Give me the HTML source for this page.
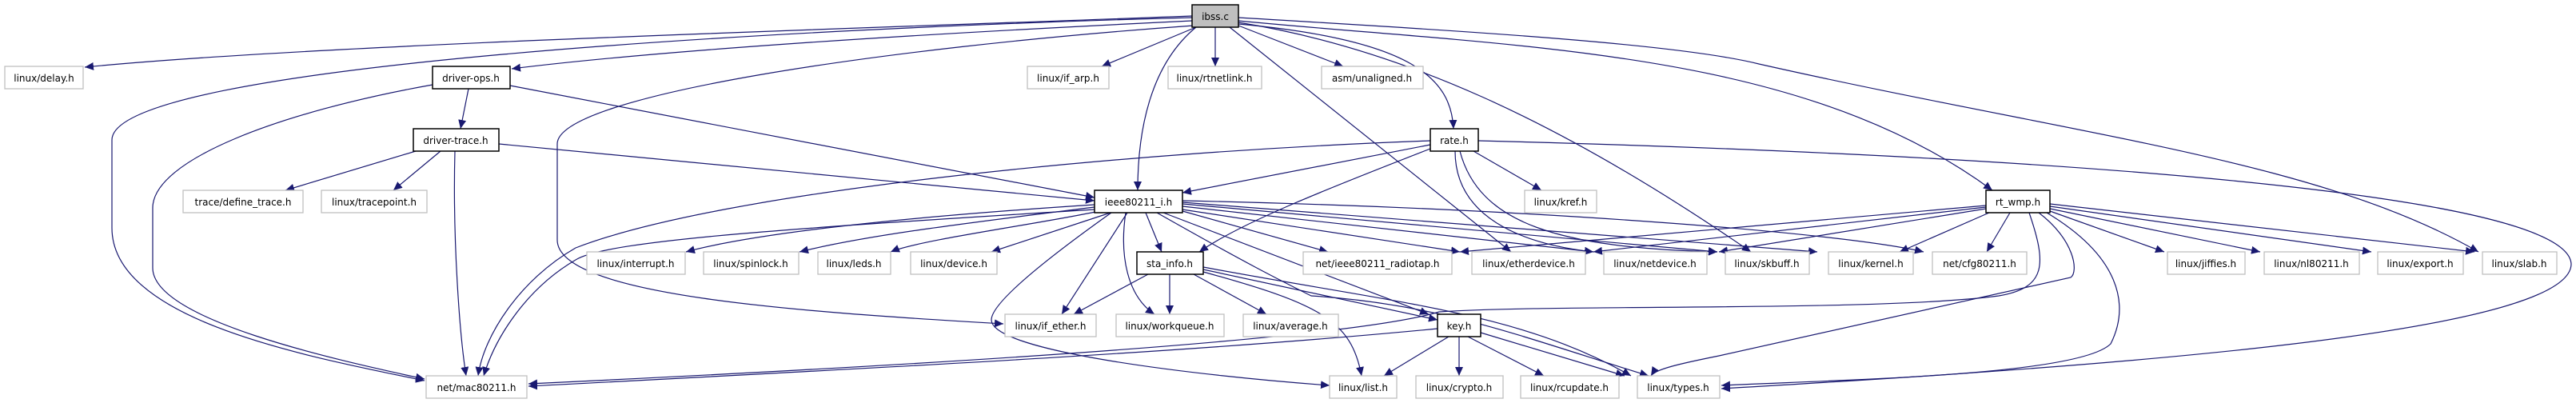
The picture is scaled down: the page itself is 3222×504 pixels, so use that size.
<!DOCTYPE html>
<html><head><meta charset="utf-8"><style>
html,body{margin:0;padding:0;background:#fff;}
svg{display:block;}
text{font-family:"DejaVu Sans","Liberation Sans",sans-serif;font-size:12px;fill:#000;}
.g{fill:#fff;stroke:#bfbfbf;stroke-width:1.3;}
.b{fill:#fff;stroke:#000;stroke-width:1.5;}
.e{fill:none;stroke:#191970;stroke-width:1.2;}
</style></head><body>
<svg width="3222" height="504" viewBox="0 0 3222 504" xmlns="http://www.w3.org/2000/svg">
<defs><marker id="a" markerUnits="userSpaceOnUse" markerWidth="12" markerHeight="10" refX="11" refY="5" orient="auto"><path d="M0,0 L11,5 L0,10 z" fill="#191970"/></marker></defs>
<g class="e" marker-end="url(#a)">
<path d="M1491,20 C1100,35 400,55 106,84"/>
<path d="M1491,22 C1000,35 140,80 140,175 L140,285 C140,400 380,445 531,476"/>
<path d="M1491,26 C1200,40 850,60 640,86"/>
<path d="M1493,32 C1100,60 697,120 697,180 L697,300 C697,370 1000,390 1255,405"/>
<path d="M1496,34 L1378,83"/>
<path d="M1520,34 L1520,83"/>
<path d="M1549,32 L1680,83"/>
<path d="M1496,34 C1440,80 1423,160 1423,238"/>
<path d="M1549,30 C1770,50 1815,100 1818,161"/>
<path d="M1538,34 L1890,315"/>
<path d="M1549,28 C1750,60 1950,150 2190,315"/>
<path d="M1549,26 C1900,60 2250,60 2492,238"/>
<path d="M1549,22 C1850,40 2100,55 2200,80 C2600,170 2900,200 3100,315"/>
<path d="M586,111 L576,161"/>
<path d="M541,106 C350,140 191,200 191,260 L191,335 C191,400 420,450 531,474"/>
<path d="M638,107 L1369,247"/>
<path d="M520,189 L357,238"/>
<path d="M551,189 L492,238"/>
<path d="M569,189 C566,300 575,420 583,470"/>
<path d="M624,180 L1369,251"/>
<path d="M1789,181 L1479,241"/>
<path d="M1789,176 C1400,190 900,240 720,310 C650,350 605,420 598,470"/>
<path d="M1789,186 C1650,240 1550,280 1500,315"/>
<path d="M1843,189 L1928,238"/>
<path d="M1820,189 C1820,270 1900,305 1993,315"/>
<path d="M1826,189 C1850,280 1950,310 2148,315"/>
<path d="M1849,176 C2400,190 3210,230 3216,330 C3216,420 2600,460 2153,486"/>
<path d="M1369,256 C1150,270 950,290 858,315"/>
<path d="M1369,259 C1200,280 1080,295 1000,315"/>
<path d="M1375,264 C1300,280 1150,300 1114,315"/>
<path d="M1389,266 L1240,315"/>
<path d="M1433,266 L1453,315"/>
<path d="M1479,264 L1661,315"/>
<path d="M1479,262 L1826,315"/>
<path d="M1479,258 L1993,315"/>
<path d="M1479,255 L2148,315"/>
<path d="M1479,253 L2273,315"/>
<path d="M1479,251 C1900,260 2300,290 2406,315"/>
<path d="M1369,262 C1000,285 760,300 720,325 C660,360 620,420 605,470"/>
<path d="M1410,266 L1328,393"/>
<path d="M1408,266 C1400,320 1410,370 1444,393"/>
<path d="M1390,266 C1300,330 1240,380 1240,400 C1240,440 1500,470 1663,482"/>
<path d="M1455,266 L1787,393"/>
<path d="M1447,266 C1560,330 1600,350 1640,370 C1800,380 1900,420 2062,470"/>
<path d="M1436,343 L1343,393"/>
<path d="M1463,343 L1463,393"/>
<path d="M1493,343 L1584,393"/>
<path d="M1505,337 L1798,400"/>
<path d="M1505,340 C1650,380 1690,400 1703,470"/>
<path d="M1505,334 C1750,380 1900,390 2040,470"/>
<path d="M1798,411 C1500,440 1100,460 661,483"/>
<path d="M1812,421 L1731,470"/>
<path d="M1825,421 L1825,470"/>
<path d="M1836,421 L1931,470"/>
<path d="M1852,416 L2032,470"/>
<path d="M2484,257 L1826,315"/>
<path d="M2484,259 L1993,315"/>
<path d="M2484,261 L2150,315"/>
<path d="M2488,266 L2376,315"/>
<path d="M2514,266 L2485,315"/>
<path d="M2564,264 L2707,315"/>
<path d="M2564,261 L2827,315"/>
<path d="M2564,258 L2966,315"/>
<path d="M2564,255 L3095,315"/>
<path d="M2538,266 C2560,330 2560,360 2500,370 C2350,390 1950,380 1800,390 C1700,420 1300,450 661,480"/>
<path d="M2550,266 C2595,300 2600,340 2590,347 L2150,445 C2100,455 2070,462 2065,470"/>
<path d="M2560,266 C2650,320 2665,380 2640,430 C2600,470 2300,475 2153,482"/>
</g>
<g>
<rect x="1491" y="6" width="58" height="28" fill="#bfbfbf" stroke="#000" stroke-width="1.5"/><text x="1520" y="25" text-anchor="middle">ibss.c</text>
<rect class="g" x="6" y="83" width="98" height="28"/><text x="55" y="102" text-anchor="middle">linux/delay.h</text>
<rect class="b" x="541" y="83" width="97" height="28"/><text x="589" y="102" text-anchor="middle">driver-ops.h</text>
<rect class="g" x="1285" y="83" width="102" height="28"/><text x="1336" y="102" text-anchor="middle">linux/if_arp.h</text>
<rect class="g" x="1461" y="83" width="117" height="28"/><text x="1519" y="102" text-anchor="middle">linux/rtnetlink.h</text>
<rect class="g" x="1653" y="83" width="127" height="28"/><text x="1716" y="102" text-anchor="middle">asm/unaligned.h</text>
<rect class="b" x="517" y="161" width="107" height="28"/><text x="570" y="180" text-anchor="middle">driver-trace.h</text>
<rect class="b" x="1789" y="161" width="60" height="28"/><text x="1819" y="180" text-anchor="middle">rate.h</text>
<rect class="g" x="229" y="238" width="150" height="28"/><text x="304" y="257" text-anchor="middle">trace/define_trace.h</text>
<rect class="g" x="402" y="238" width="132" height="28"/><text x="468" y="257" text-anchor="middle">linux/tracepoint.h</text>
<rect class="b" x="1369" y="238" width="110" height="28"/><text x="1424" y="257" text-anchor="middle">ieee80211_i.h</text>
<rect class="g" x="1907" y="238" width="90" height="28"/><text x="1952" y="257" text-anchor="middle">linux/kref.h</text>
<rect class="b" x="2484" y="238" width="80" height="28"/><text x="2524" y="257" text-anchor="middle">rt_wmp.h</text>
<rect class="g" x="734" y="315" width="123" height="28"/><text x="795" y="334" text-anchor="middle">linux/interrupt.h</text>
<rect class="g" x="880" y="315" width="119" height="28"/><text x="939" y="334" text-anchor="middle">linux/spinlock.h</text>
<rect class="g" x="1023" y="315" width="91" height="28"/><text x="1068" y="334" text-anchor="middle">linux/leds.h</text>
<rect class="g" x="1139" y="315" width="108" height="28"/><text x="1193" y="334" text-anchor="middle">linux/device.h</text>
<rect class="b" x="1422" y="315" width="83" height="28"/><text x="1463" y="334" text-anchor="middle">sta_info.h</text>
<rect class="g" x="1630" y="315" width="186" height="28"/><text x="1723" y="334" text-anchor="middle">net/ieee80211_radiotap.h</text>
<rect class="g" x="1841" y="315" width="142" height="28"/><text x="1912" y="334" text-anchor="middle">linux/etherdevice.h</text>
<rect class="g" x="2006" y="315" width="129" height="28"/><text x="2070" y="334" text-anchor="middle">linux/netdevice.h</text>
<rect class="g" x="2158" y="315" width="105" height="28"/><text x="2210" y="334" text-anchor="middle">linux/skbuff.h</text>
<rect class="g" x="2287" y="315" width="106" height="28"/><text x="2340" y="334" text-anchor="middle">linux/kernel.h</text>
<rect class="g" x="2417" y="315" width="118" height="28"/><text x="2476" y="334" text-anchor="middle">net/cfg80211.h</text>
<rect class="g" x="2711" y="315" width="97" height="28"/><text x="2759" y="334" text-anchor="middle">linux/jiffies.h</text>
<rect class="g" x="2832" y="315" width="119" height="28"/><text x="2891" y="334" text-anchor="middle">linux/nl80211.h</text>
<rect class="g" x="2974" y="315" width="107" height="28"/><text x="3027" y="334" text-anchor="middle">linux/export.h</text>
<rect class="g" x="3105" y="315" width="93" height="28"/><text x="3151" y="334" text-anchor="middle">linux/slab.h</text>
<rect class="g" x="1257" y="393" width="114" height="28"/><text x="1314" y="412" text-anchor="middle">linux/if_ether.h</text>
<rect class="g" x="1396" y="393" width="135" height="28"/><text x="1463" y="412" text-anchor="middle">linux/workqueue.h</text>
<rect class="g" x="1555" y="393" width="119" height="28"/><text x="1614" y="412" text-anchor="middle">linux/average.h</text>
<rect class="b" x="1798" y="393" width="54" height="28"/><text x="1825" y="412" text-anchor="middle">key.h</text>
<rect class="g" x="533" y="470" width="126" height="28"/><text x="596" y="489" text-anchor="middle">net/mac80211.h</text>
<rect class="g" x="1663" y="470" width="84" height="28"/><text x="1705" y="489" text-anchor="middle">linux/list.h</text>
<rect class="g" x="1771" y="470" width="109" height="28"/><text x="1825" y="489" text-anchor="middle">linux/crypto.h</text>
<rect class="g" x="1902" y="470" width="123" height="28"/><text x="1963" y="489" text-anchor="middle">linux/rcupdate.h</text>
<rect class="g" x="2048" y="470" width="103" height="28"/><text x="2099" y="489" text-anchor="middle">linux/types.h</text>
</g>
</svg>
</body></html>
